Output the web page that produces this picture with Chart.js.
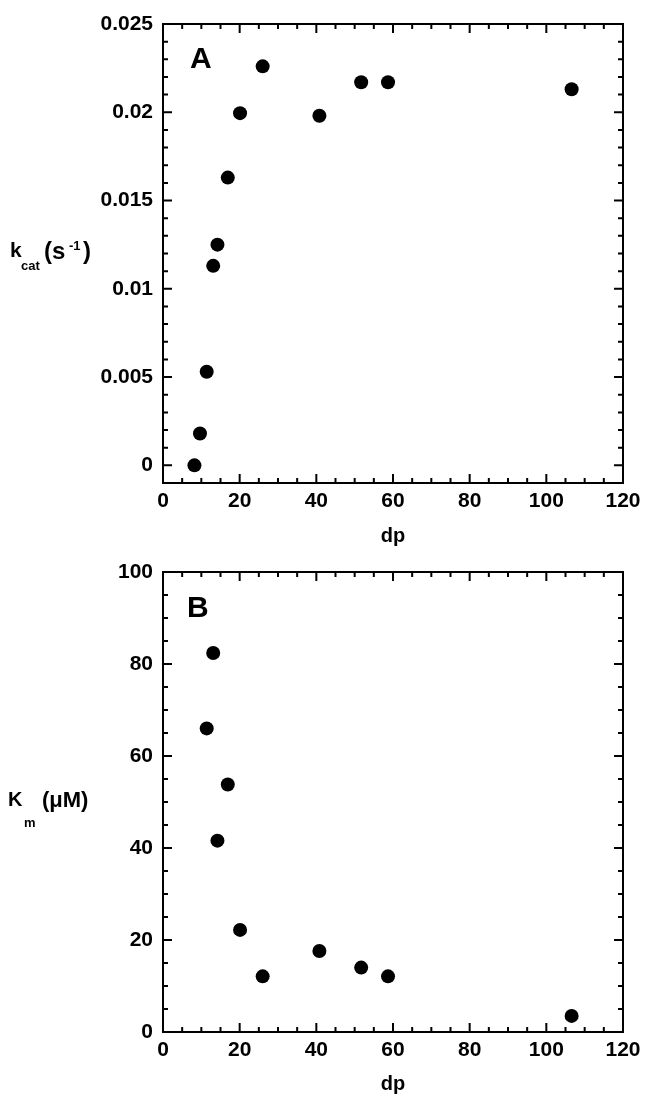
<!DOCTYPE html>
<html>
<head>
<meta charset="utf-8">
<script src="https://cdn.jsdelivr.net/npm/chart.js@4/dist/chart.umd.min.js"></script>
<style>
  body { margin: 0; background: #fff; }
  #wrap { position: relative; width: 648px; height: 1097px; }
  canvas { position: absolute; left: 0; }
</style>
</head>
<body>
<div id="wrap">
  <canvas id="chartA" width="648" height="548" style="top:0"></canvas>
  <canvas id="chartB" width="648" height="549" style="top:548px"></canvas>
</div>
<script>
// datos
const dpA = [8.2, 9.65, 11.4, 13.1, 14.2, 16.9, 20.1, 26, 40.8, 51.7, 58.7, 106.6];
const kcat = [0, 0.0018, 0.0053, 0.0113, 0.0125, 0.0163, 0.01995, 0.0226, 0.0198, 0.0217, 0.0217, 0.0213];
const dpB = [11.4, 13.1, 14.2, 16.9, 20.1, 26, 40.8, 51.7, 58.7, 106.6];
const km = [66, 82.4, 41.6, 53.8, 22.2, 12.1, 17.6, 14, 12.1, 3.5];

const xTicks = [0, 20, 40, 60, 80, 100, 120];
const kcatTicks = [0, 0.005, 0.01, 0.015, 0.02, 0.025];
const kcatLabels = ["0", "0.005", "0.01", "0.015", "0.02", "0.025"];
const kmTicks = [0, 20, 40, 60, 80, 100];
const kmLabels = ["0", "20", "40", "60", "80", "100"];

const FONT = "'Liberation Sans', Arial, Helvetica, sans-serif";

// marco con marcas hacia dentro en los cuatro lados
const framePlugin = {
  id: "frame",
  afterDraw(chart, args, opts) {
    const { ctx, chartArea: a, scales: { x, y } } = chart;
    ctx.save();
    ctx.strokeStyle = "#000";
    ctx.lineWidth = 2;
    ctx.strokeRect(a.left, a.top, a.right - a.left, a.bottom - a.top);

    ctx.beginPath();
    const nx = Math.round((x.max - x.min) / opts.xMinor);
    for (let i = 0; i <= nx; i++) {
      const v = x.min + i * opts.xMinor;
      const px = x.getPixelForValue(v);
      const len = xTicks.includes(v) ? 9 : 5;
      ctx.moveTo(px, a.bottom); ctx.lineTo(px, a.bottom - len);
      ctx.moveTo(px, a.top); ctx.lineTo(px, a.top + len);
    }
    const ny = Math.round((y.max - y.min) / opts.yMinor);
    for (let i = 0; i <= ny; i++) {
      const v = y.min + i * opts.yMinor;
      const py = y.getPixelForValue(v);
      const major = opts.yMajor.some(t => Math.abs(t - v) < opts.yMinor / 10);
      const len = major ? 9 : 5;
      ctx.moveTo(a.left, py); ctx.lineTo(a.left + len, py);
      ctx.moveTo(a.right, py); ctx.lineTo(a.right - len, py);
    }
    ctx.stroke();

    // letra del panel
    ctx.fillStyle = "#000";
    ctx.textBaseline = "alphabetic";
    ctx.textAlign = "left";
    ctx.font = "bold 30px " + FONT;
    ctx.fillText(opts.panel, opts.panelX, opts.panelY);

    // titulo eje x
    ctx.textAlign = "center";
    ctx.font = "bold 20px " + FONT;
    ctx.fillText("dp", (a.left + a.right) / 2, 542);

    // titulo eje y con subindices
    ctx.textAlign = "left";
    opts.yTitle.forEach(p => {
      ctx.font = "bold " + p.size + "px " + FONT;
      ctx.fillText(p.text, p.x, p.y);
    });
    ctx.restore();
  }
};

function crearGrafico(id, xs, ys, yMin, yMax, yTicks, yLabels, frameOpts) {
  const puntos = xs.map((v, i) => ({ x: v, y: ys[i] }));
  return new Chart(document.getElementById(id), {
    type: "scatter",
    data: {
      datasets: [{
        data: puntos,
        pointRadius: 7,
        pointBackgroundColor: "#000",
        pointBorderWidth: 0,
        pointHoverRadius: 7
      }]
    },
    options: {
      responsive: false,
      animation: false,
      events: [],
      layout: { padding: { top: 24, right: 25, left: 0, bottom: 0 } },
      plugins: {
        legend: { display: false },
        tooltip: { enabled: false },
        frame: frameOpts
      },
      scales: {
        x: {
          type: "linear",
          min: 0,
          max: 120,
          grid: { display: false, drawTicks: false },
          border: { display: false },
          afterBuildTicks: s => { s.ticks = xTicks.map(v => ({ value: v })); },
          afterFit: s => { s.height = 65; },
          ticks: {
            autoSkip: false,
            maxRotation: 0,
            padding: 6,
            color: "#000",
            font: { family: FONT, size: 21, weight: "bold" },
            callback: v => String(v)
          }
        },
        y: {
          type: "linear",
          min: yMin,
          max: yMax,
          grid: { display: false, drawTicks: false },
          border: { display: false },
          afterBuildTicks: s => { s.ticks = yTicks.map(v => ({ value: v })); },
          afterFit: s => { s.width = 163; },
          ticks: {
            autoSkip: false,
            padding: 10,
            color: "#000",
            font: { family: FONT, size: 21, weight: "bold" },
            callback: (v, i) => yLabels[i]
          }
        }
      }
    },
    plugins: [framePlugin]
  });
}

crearGrafico("chartA", dpA, kcat, -0.001, 0.025, kcatTicks, kcatLabels, {
  xMinor: 5, yMinor: 0.001, yMajor: kcatTicks,
  panel: "A", panelX: 190, panelY: 68,
  yTitle: [
    { text: "k", size: 21, x: 10, y: 257 },
    { text: "cat", size: 13, x: 21, y: 270 },
    { text: "(s", size: 24, x: 44, y: 259 },
    { text: "-1", size: 13, x: 69, y: 250 },
    { text: ")", size: 24, x: 83, y: 259 }
  ]
});

crearGrafico("chartB", dpB, km, 0, 100, kmTicks, kmLabels, {
  xMinor: 5, yMinor: 5, yMajor: kmTicks,
  panel: "B", panelX: 187, panelY: 69,
  yTitle: [
    { text: "K", size: 20, x: 8, y: 258 },
    { text: "m", size: 13, x: 24, y: 279 },
    { text: "(\u03bcM)", size: 22, x: 42, y: 259 }
  ]
});
</script>
</body>
</html>
